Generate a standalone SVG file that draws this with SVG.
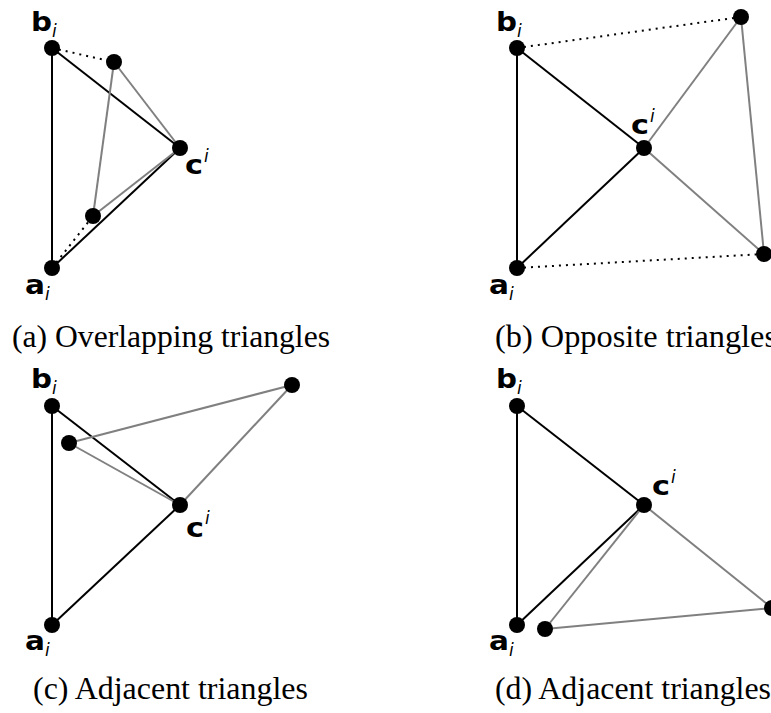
<svg xmlns="http://www.w3.org/2000/svg" width="771" height="713" viewBox="0 0 771 713">
<style>
.blk{stroke:#000;stroke-width:2;fill:none}
.gry{stroke:#808080;stroke-width:2;fill:none}
.dot{stroke:#000;stroke-width:2;fill:none;stroke-dasharray:2 5}
.nd{fill:#000}
.lb{font-family:"DejaVu Sans",sans-serif;font-weight:bold;font-size:27px;fill:#000}
.ix{font-family:"DejaVu Sans",sans-serif;font-style:italic;font-size:17px;fill:#000}
.cap{font-family:"Liberation Serif","Times New Roman",serif;font-size:31px;fill:#000}
</style>
<rect width="771" height="713" fill="#fff"/>
<g id="connectors">
<line class="blk" x1="52" y1="268" x2="52" y2="48"/>
<line class="blk" x1="52" y1="48" x2="180" y2="148"/>
<line class="blk" x1="52" y1="268" x2="180" y2="148"/>
<line class="gry" x1="114" y1="62" x2="180" y2="148"/>
<line class="gry" x1="114" y1="62" x2="93" y2="216"/>
<line class="gry" x1="93" y1="216" x2="180" y2="148"/>
<line class="dot" x1="52" y1="48" x2="114" y2="62"/>
<line class="dot" x1="52" y1="268" x2="93" y2="216"/>
<line class="blk" x1="517" y1="268" x2="517" y2="48"/>
<line class="blk" x1="517" y1="48" x2="644" y2="148"/>
<line class="blk" x1="517" y1="268" x2="644" y2="148"/>
<line class="gry" x1="644" y1="148" x2="741" y2="17"/>
<line class="gry" x1="644" y1="148" x2="764" y2="254"/>
<line class="gry" x1="741" y1="17" x2="764" y2="254"/>
<line class="dot" x1="517" y1="48" x2="741" y2="17"/>
<line class="dot" x1="517" y1="268" x2="764" y2="254"/>
<line class="blk" x1="52" y1="625" x2="52" y2="406"/>
<line class="blk" x1="52" y1="406" x2="180" y2="505"/>
<line class="blk" x1="52" y1="625" x2="180" y2="505"/>
<line class="gry" x1="69" y1="443" x2="292" y2="385"/>
<line class="gry" x1="69" y1="443" x2="180" y2="505"/>
<line class="gry" x1="292" y1="385" x2="180" y2="505"/>
<line class="blk" x1="517" y1="625" x2="517" y2="406"/>
<line class="blk" x1="517" y1="406" x2="644" y2="505"/>
<line class="blk" x1="517" y1="625" x2="644" y2="505"/>
<line class="gry" x1="644" y1="505" x2="772" y2="608"/>
<line class="gry" x1="644" y1="505" x2="545" y2="629"/>
<line class="gry" x1="545" y1="629" x2="772" y2="608"/>
</g>
<g id="panel-a">
<g id="a-b"><circle class="nd" cx="52" cy="48" r="8"/><text class="lb" x="31" y="31" textLength="21" lengthAdjust="spacingAndGlyphs">b</text><text class="ix" x="52" y="37">i</text></g>
<g id="a-a"><circle class="nd" cx="52" cy="268" r="8"/><text class="lb" x="25" y="294" textLength="20" lengthAdjust="spacingAndGlyphs">a</text><text class="ix" x="45" y="300">i</text></g>
<g id="a-c"><circle class="nd" cx="180" cy="148" r="8"/><text class="lb" x="185" y="174" textLength="18" lengthAdjust="spacingAndGlyphs">c</text><text class="ix" x="204" y="162">i</text></g>
<g id="a-p"><circle class="nd" cx="114" cy="62" r="8"/></g>
<g id="a-q"><circle class="nd" cx="93" cy="216" r="8"/></g>
<text class="cap" x="12" y="347" textLength="318" lengthAdjust="spacingAndGlyphs">(a) Overlapping triangles</text>
</g>
<g id="panel-b">
<g id="b-b"><circle class="nd" cx="517" cy="48" r="8"/><text class="lb" x="496" y="31" textLength="21" lengthAdjust="spacingAndGlyphs">b</text><text class="ix" x="517" y="37">i</text></g>
<g id="b-a"><circle class="nd" cx="517" cy="268" r="8"/><text class="lb" x="489" y="294" textLength="20" lengthAdjust="spacingAndGlyphs">a</text><text class="ix" x="509" y="300">i</text></g>
<g id="b-c"><circle class="nd" cx="644" cy="148" r="8"/><text class="lb" x="631" y="134" textLength="18" lengthAdjust="spacingAndGlyphs">c</text><text class="ix" x="650" y="122">i</text></g>
<g id="b-p"><circle class="nd" cx="741" cy="17" r="8"/></g>
<g id="b-q"><circle class="nd" cx="764" cy="254" r="8"/></g>
<text class="cap" x="495" y="347" textLength="282" lengthAdjust="spacingAndGlyphs">(b) Opposite triangles</text>
</g>
<g id="panel-c">
<g id="c-b"><circle class="nd" cx="52" cy="406" r="8"/><text class="lb" x="31" y="388" textLength="21" lengthAdjust="spacingAndGlyphs">b</text><text class="ix" x="52" y="394">i</text></g>
<g id="c-a"><circle class="nd" cx="52" cy="625" r="8"/><text class="lb" x="25" y="650" textLength="20" lengthAdjust="spacingAndGlyphs">a</text><text class="ix" x="45" y="656">i</text></g>
<g id="c-c"><circle class="nd" cx="180" cy="505" r="8"/><text class="lb" x="186" y="537" textLength="18" lengthAdjust="spacingAndGlyphs">c</text><text class="ix" x="205" y="524">i</text></g>
<g id="c-p"><circle class="nd" cx="69" cy="443" r="8"/></g>
<g id="c-q"><circle class="nd" cx="292" cy="385" r="8"/></g>
<text class="cap" x="33" y="699" textLength="275" lengthAdjust="spacingAndGlyphs">(c) Adjacent triangles</text>
</g>
<g id="panel-d">
<g id="d-b"><circle class="nd" cx="517" cy="406" r="8"/><text class="lb" x="496" y="388" textLength="21" lengthAdjust="spacingAndGlyphs">b</text><text class="ix" x="517" y="394">i</text></g>
<g id="d-a"><circle class="nd" cx="517" cy="625" r="8"/><text class="lb" x="489" y="650" textLength="20" lengthAdjust="spacingAndGlyphs">a</text><text class="ix" x="509" y="656">i</text></g>
<g id="d-c"><circle class="nd" cx="644" cy="505" r="8"/><text class="lb" x="652" y="495" textLength="18" lengthAdjust="spacingAndGlyphs">c</text><text class="ix" x="671" y="483">i</text></g>
<g id="d-p"><circle class="nd" cx="545" cy="629" r="8"/></g>
<g id="d-q"><circle class="nd" cx="772" cy="608" r="8"/></g>
<text class="cap" x="495" y="699" textLength="276" lengthAdjust="spacingAndGlyphs">(d) Adjacent triangles</text>
</g>
</svg>
